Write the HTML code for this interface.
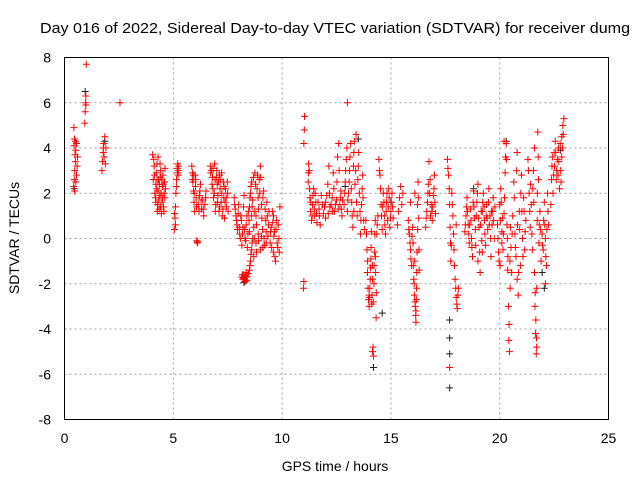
<!DOCTYPE html>
<html><head><meta charset="utf-8"><style>
html,body{margin:0;padding:0;background:#fff}
svg{display:block;font-family:"Liberation Sans",sans-serif}
</style></head><body>
<svg id="chart" width="640" height="480" viewBox="0 0 640 480">
<rect width="640" height="480" fill="#fff"/>
<text x="335" y="33" font-size="15" text-anchor="middle" textLength="590" lengthAdjust="spacingAndGlyphs">Day 016 of 2022, Sidereal Day-to-day VTEC variation (SDTVAR) for receiver dumg</text>
<g id="grid"></g>
<g id="ticks"></g>
<g id="black"></g>
<g id="red"></g>
<rect x="64.5" y="57.5" width="544" height="362" fill="none" stroke="#000" stroke-width="1"/>
<text x="335" y="471" font-size="14" text-anchor="middle">GPS time / hours</text>
<text x="0" y="0" font-size="14" text-anchor="middle" transform="translate(19,238) rotate(-90)">SDTVAR / TECUs</text>
</svg>
<script>
const xTicks=[0,5,10,15,20,25];
const yTicks=[-8,-6,-4,-2,0,2,4,6,8];
const redPoints=[
[0.42,2.3],[0.45,2.6],[0.47,3.0],[0.5,3.4],[0.48,3.7],[0.44,4.1],[0.46,4.4],[0.5,4.3],[0.52,2.5],[0.55,2.8],[0.58,3.2],[0.43,4.9],[0.6,3.6],
[0.93,5.1],[0.95,5.6],[0.97,6.0],[0.98,6.3],[1.0,7.7],
[1.72,3.0],[1.75,3.4],[1.78,3.8],[1.8,4.2],[1.85,4.5],[1.9,4.0],[1.82,3.6],
[2.55,6.0],
[4.05,3.7],[4.1,3.5],[4.12,3.2],[4.15,2.0],[4.18,1.8],[4.2,2.4],[4.22,2.9],[4.25,3.3],[4.28,1.5],[4.3,2.1],[4.32,2.6],[4.35,1.3],[4.38,1.9],[4.4,2.7],[4.42,3.0],[4.45,1.1],[4.48,1.6],[4.5,2.3],[4.52,2.8],[4.55,1.4],[4.58,2.0],[4.6,2.5],[4.62,3.1],[4.3,3.6],[4.2,1.6],
[5.05,0.4],[5.08,0.9],[5.1,1.4],[5.12,2.0],[5.15,2.6],[5.18,3.1],[5.2,3.3],[5.22,2.8],[5.25,3.2],[5.1,0.6],
[5.85,3.2],[5.88,2.9],[5.9,2.5],[5.93,2.1],[5.95,1.6],[5.98,1.2],[6.0,2.8],[6.02,2.3],[6.05,1.8],[6.08,-0.1],[6.1,-0.2],[6.12,-0.15],[6.15,1.5],[6.2,1.9],[6.25,2.4],[6.3,1.3],[6.35,1.7],[6.4,1.0],[6.45,1.5],[6.5,2.1],
[6.7,3.2],[6.75,3.0],[6.8,2.7],[6.82,2.2],[6.85,1.8],[6.9,3.3],[6.92,2.6],[6.95,1.5],[7.0,3.0],[7.02,2.4],[7.05,1.9],[7.1,1.2],[7.12,2.8],[7.15,2.2],[7.2,1.6],[7.22,2.9],[7.25,1.0],[7.3,2.5],[7.32,1.8],[7.35,0.9],[7.4,2.2],[7.45,1.4],[7.5,2.0],
[7.8,1.8],[7.85,1.3],[7.9,0.8],[7.95,0.4],[8.0,1.5],[8.05,0.2],[8.1,1.0],[8.15,-0.3],[8.2,0.5],[8.25,1.9],[8.3,0.0],[8.35,0.6],[8.4,-0.4],[8.45,1.2],[8.5,0.3],
[8.15,-1.7],[8.2,-1.8],[8.25,-1.6],[8.3,-1.9],[8.35,-1.5],[8.4,-1.7],[8.5,-1.4],[8.55,-1.0],[8.6,-0.5],[8.65,0.0],[8.5,1.4],[8.55,2.0],[8.6,2.5],[8.65,1.7],[8.7,0.5],[8.75,2.9],[8.8,1.0],[8.85,2.2],[8.9,0.2],[8.95,2.6],[9.0,3.2],[9.05,1.5],[9.1,0.4],[9.15,2.1],[9.2,-0.3],[9.25,0.8],[9.3,1.6],[9.35,0.1],[9.4,1.2],[8.7,-0.8],[8.8,-0.2],[9.0,-0.5],[8.9,1.8],[8.6,1.0],
[9.45,-0.2],[9.5,0.5],[9.55,1.2],[9.6,-0.6],[9.65,0.3],[9.7,-1.0],[9.75,0.8],[9.8,-0.4],[9.85,0.0],[9.9,1.4],[9.6,1.0],
[10.98,-2.2],[11.0,-1.9],[11.0,4.2],[11.02,4.8],[11.03,5.4],
[11.2,2.5],[11.22,3.3],[11.25,3.0],[11.28,1.8],[11.3,1.2],[11.35,0.8],[11.4,1.5],[11.45,2.2],[11.5,1.0],[11.55,1.6],[11.6,0.7],[11.7,1.3],[11.8,1.9],[11.9,1.1],[12.0,1.6],[12.1,2.4],[12.15,3.2],[12.2,1.4],[12.3,1.8],[12.35,2.9],[12.4,1.2],[12.5,1.7],[12.55,3.6],[12.6,4.2],[12.65,1.5],[12.7,2.1],[12.75,1.0],[11.75,0.6],[12.0,0.9],
[13.0,6.0],
[12.85,1.5],[12.9,2.5],[12.95,3.5],[13.0,1.2],[13.05,2.0],[13.1,3.0],[13.15,4.2],[13.2,1.6],[13.25,0.5],[13.3,3.8],[13.35,2.4],[13.4,4.6],[13.45,1.0],[13.5,3.2],[13.55,2.0],[13.6,0.2],[13.65,1.5],[13.7,2.8],[13.75,0.8],[13.3,1.2],
[13.85,0.8],[13.9,-0.5],[13.92,-1.5],[13.95,-2.2],[14.0,-3.0],[14.02,-2.6],[14.05,-1.8],[14.08,-0.9],[14.1,0.3],[14.12,-2.9],[14.15,-1.2],[14.18,-4.8],[14.2,-5.2],[14.22,-2.0],[14.25,-0.6],[14.28,0.8],[14.3,-1.5],[14.32,-3.5],[14.35,0.2],[14.4,1.0],[14.0,-2.5],
[14.45,3.5],[14.5,2.8],[14.55,1.5],[14.6,0.4],[14.65,2.0],[14.7,1.0],[14.75,0.2],[14.8,1.6],[14.85,0.8],[14.9,2.2],[14.95,0.5],[15.0,1.2],[15.05,2.0],[15.1,0.9],
[15.3,0.6],[15.35,1.2],[15.4,1.8],[15.45,2.3],[15.5,1.5],[15.55,2.0],
[15.8,0.8],[15.85,0.2],[15.9,-0.5],[15.95,-1.2],[16.0,0.5],[16.02,-0.2],[16.05,-1.8],[16.08,-2.5],[16.1,-1.0],[16.12,-3.0],[16.15,-3.7],[16.18,-2.2],[16.2,-0.6],[16.22,1.5],[16.25,2.5],[16.28,0.9],[16.3,-1.4],[15.9,1.6],[16.1,2.0],[16.15,-3.2],
[16.6,0.5],[16.65,1.2],[16.7,2.0],[16.75,3.4],[16.8,2.6],[16.85,1.5],[16.9,0.8],[16.95,1.9],[17.0,2.8],[17.05,1.1],
[17.6,3.5],[17.65,2.8],[17.7,1.5],[17.72,0.5],[17.75,-1.0],[17.7,-5.7],[17.8,2.0],[17.85,1.0],[17.9,-0.5],[17.95,-1.8],[18.0,-2.6],[18.05,-3.1],[18.1,-2.2],[18.0,0.6],[17.78,-0.3],
[18.4,0.3],[18.45,1.0],[18.5,1.8],[18.55,0.6],[18.6,-0.2],[18.65,1.3],[18.7,0.0],[18.75,-0.8],[18.8,2.1],[18.85,0.9],[18.9,-0.3],[18.95,1.6],[19.0,2.4],[19.05,0.5],[19.1,-1.5],[19.15,1.2],[19.2,-0.6],[19.25,2.0],[19.3,0.8],[19.35,-0.3],[19.4,1.5],[19.45,0.4],[19.5,2.2],[19.55,1.0],[19.6,-0.8],[19.65,0.6],[19.7,1.8],[19.75,0.0],[19.2,1.2],[19.0,-1.0],
[19.9,0.6],[19.95,-0.6],[20.0,1.5],[20.02,-1.2],[20.05,2.2],[20.1,0.3],[20.15,-0.5],[20.2,1.1],[20.25,2.9],[20.3,4.2],[20.32,3.5],[20.35,0.0],[20.38,-0.8],[20.4,-3.0],[20.42,-4.5],[20.45,-5.0],[20.48,-2.2],[20.5,0.5],[20.55,-1.5],[20.6,1.0],[20.2,4.3],[20.1,-0.2],
[20.65,2.5],[20.7,0.2],[20.75,-0.8],[20.8,3.8],[20.85,-2.5],[20.9,1.2],[20.95,-1.2],[21.0,2.8],[21.05,0.0],[21.1,1.8],[21.15,-0.5],[21.2,0.8],[20.8,-1.8],
[21.3,3.5],[21.35,2.0],[21.4,0.5],[21.45,1.5],[21.5,-0.5],[21.55,3.0],[21.6,-1.5],[21.62,-3.0],[21.65,-4.2],[21.68,-5.1],[21.7,-2.2],[21.72,0.8],[21.75,4.7],[21.78,2.6],[21.8,-0.2],[21.85,1.2],[21.9,-1.0],[21.6,4.0],[21.7,-4.8],
[21.95,0.2],[22.0,-0.5],[22.05,1.6],[22.1,0.0],[22.15,-1.2],[22.2,2.0],[22.25,0.6],[22.1,-2.0],
[22.35,1.5],[22.4,3.2],[22.45,2.0],[22.5,3.8],[22.55,4.3],[22.6,2.6],[22.65,3.5],[22.7,4.0],[22.75,2.2],[22.8,3.0],[22.85,4.5],[22.9,5.0],[22.95,5.3],[22.85,3.6]
];
const redPointsExtra=[
[0.47,2.1],[0.52,3.9],[0.55,4.2],[0.98,5.9],[1.78,4.0],[1.88,3.3],
[4.08,2.6],[4.14,2.8],[4.24,2.2],[4.27,1.2],[4.33,1.7],[4.36,2.4],[4.41,1.4],[4.44,2.0],[4.47,2.6],[4.51,1.8],[4.54,2.4],[4.57,1.2],[4.61,1.8],[4.64,2.2],[4.26,2.6],[4.39,3.3],
[5.06,1.1],[5.14,2.3],[5.19,2.9],[5.23,3.0],[5.87,2.6],[5.92,2.8],[5.96,2.0],[6.03,2.6],[6.07,1.4],[6.18,1.2],[6.22,2.1],[6.28,1.7],[6.38,1.3],[6.48,1.8],
[6.72,2.9],[6.78,2.4],[6.83,3.1],[6.88,2.0],[6.93,1.2],[6.98,2.7],[7.03,1.6],[7.08,2.5],[7.13,1.4],[7.18,2.6],[7.23,2.0],[7.28,1.3],[7.33,2.3],[7.38,1.6],[7.43,1.8],[7.48,2.5],[7.52,1.2],
[7.82,1.5],[7.88,1.0],[7.93,0.6],[7.98,1.1],[8.03,0.5],[8.08,0.0],[8.13,0.8],[8.18,0.2],[8.23,1.4],[8.28,0.4],[8.33,-0.1],[8.38,1.0],[8.43,0.2],[8.48,0.8],
[8.18,-1.6],[8.22,-1.75],[8.28,-1.8],[8.33,-1.65],[8.38,-1.85],[8.45,-1.55],[8.52,-1.2],[8.57,-0.7],[8.62,-0.2],[8.52,1.8],[8.57,2.3],[8.62,1.4],[8.68,2.7],[8.72,1.2],[8.78,2.4],[8.82,0.6],[8.87,2.8],[8.92,1.3],[8.97,2.0],[9.02,2.7],[9.07,0.9],[9.12,1.8],[9.17,0.0],[9.22,1.3],[9.27,0.3],[9.32,1.0],[9.37,0.6],[8.72,0.0],[8.82,-0.6],[8.92,-0.1],[9.05,0.1],[9.12,-0.4],[9.27,-0.2],
[9.47,0.3],[9.52,-0.4],[9.57,0.7],[9.62,0.1],[9.67,-0.8],[9.72,0.4],[9.77,-0.2],[9.82,0.6],[9.87,-0.6],
[11.21,2.9],[11.26,2.2],[11.32,1.6],[11.38,1.0],[11.42,1.9],[11.48,1.3],[11.52,2.0],[11.58,1.1],[11.65,1.6],[11.72,1.0],[11.85,1.5],[11.95,1.4],[12.05,1.9],[12.12,1.1],[12.18,2.0],[12.25,1.5],[12.32,1.2],[12.38,2.2],[12.45,1.5],[12.52,2.5],[12.58,1.3],[12.62,3.0],[12.68,1.8],[12.72,1.3],[12.78,1.7],
[12.88,2.0],[12.92,3.0],[12.98,4.0],[13.02,1.7],[13.08,2.5],[13.12,3.6],[13.18,2.2],[13.22,1.0],[13.28,3.2],[13.32,4.3],[13.38,3.0],[13.42,1.6],[13.48,2.6],[13.52,3.8],[13.58,1.2],[13.62,0.8],[13.68,2.2],[13.72,1.8],[13.78,0.4],
[13.88,0.2],[13.93,-1.0],[13.97,-2.7],[14.03,-2.2],[14.06,-1.3],[14.09,-0.4],[14.13,-2.5],[14.16,-1.8],[14.19,-2.8],[14.23,-1.2],[14.26,0.2],[14.29,-0.8],[14.33,-2.4],[14.37,0.6],[14.15,-5.0],
[14.47,3.0],[14.52,2.2],[14.57,1.0],[14.62,1.4],[14.68,1.6],[14.72,0.6],[14.78,1.2],[14.82,2.0],[14.88,1.4],[14.92,1.8],[14.98,0.9],[15.02,1.6],[15.08,1.4],
[15.82,0.4],[15.88,-0.2],[15.92,-0.9],[15.97,0.1],[16.03,-1.2],[16.07,-2.0],[16.11,-2.8],[16.14,-3.4],[16.17,-2.7],[16.19,-1.5],[16.23,0.4],[16.26,1.8],[16.29,-0.5],
[16.62,0.9],[16.68,1.6],[16.72,2.4],[16.78,2.0],[16.82,1.0],[16.88,1.2],[16.92,1.4],[16.98,2.2],[17.02,1.6],
[17.62,3.1],[17.68,2.2],[17.74,-0.2],[17.82,1.5],[17.88,0.2],[17.92,-1.2],[17.98,-2.2],[18.03,-2.9],[18.08,-2.5],
[18.42,0.6],[18.48,1.4],[18.52,1.2],[18.58,0.2],[18.62,0.6],[18.68,0.8],[18.72,-0.4],[18.78,1.6],[18.82,1.4],[18.88,0.4],[18.92,1.0],[18.98,2.0],[19.02,0.9],[19.08,-0.6],[19.12,0.6],[19.18,-0.1],[19.22,1.6],[19.28,1.4],[19.32,0.2],[19.38,1.0],[19.42,0.9],[19.48,1.6],[19.52,0.6],[19.58,0.0],[19.62,1.2],[19.68,1.2],[19.72,0.8],[19.78,1.4],
[19.92,0.0],[19.97,-1.0],[20.03,0.8],[20.07,1.6],[20.12,0.9],[20.17,0.2],[20.22,1.8],[20.27,3.6],[20.33,0.6],[20.37,-1.4],[20.43,-3.8],[20.47,-1.0],[20.52,-0.4],[20.57,0.2],
[20.67,1.8],[20.72,-0.4],[20.78,3.0],[20.82,0.6],[20.87,-1.5],[20.92,0.4],[20.97,2.0],[21.02,1.2],[21.07,-0.8],[21.12,1.2],[21.17,0.3],
[21.32,3.0],[21.38,1.2],[21.42,2.4],[21.48,0.2],[21.52,2.2],[21.57,1.6],[21.63,-2.4],[21.66,-3.6],[21.69,-4.4],[21.73,2.0],[21.77,3.6],[21.82,0.6],[21.87,0.4],
[21.97,-0.3],[22.02,0.8],[22.07,0.6],[22.12,-0.8],[22.17,0.4],[22.22,1.2],
[22.38,2.6],[22.42,3.6],[22.48,2.8],[22.52,3.2],[22.58,3.8],[22.62,3.0],[22.68,2.8],[22.72,3.4],[22.78,4.2],[22.82,2.5],[22.88,4.0],[22.92,4.6]
];
const blackPoints=[
[0.45,2.2],[0.95,6.5],[1.85,4.3],[8.25,-1.95],[14.2,-5.7],[14.6,-3.3],[17.7,-6.6],[17.7,-4.4],[17.7,-5.1],[17.7,-3.6],[20.3,4.3],[21.95,-1.5],[22.05,-2.2],[12.9,2.3],[13.5,4.4],[15.0,1.6],[18.8,2.2],[22.8,3.9]
];
const NS="http://www.w3.org/2000/svg";
const X0=64.5,X1=608.5,Y0=419.5,Y1=57.5;
function xs(v){return X0+(v-0)/(25-0)*(X1-X0);}
function ys(v){return Y0-(v+8)/16*(Y0-Y1);}
const grid=document.getElementById('grid'),ticks=document.getElementById('ticks');
xTicks.forEach(t=>{
  const x=xs(t);
  if(t>0&&t<25){const l=document.createElementNS(NS,'line');
  l.setAttribute('x1',x);l.setAttribute('x2',x);l.setAttribute('y1',Y1);l.setAttribute('y2',Y0);
  l.setAttribute('stroke','#a0a0a0');l.setAttribute('stroke-dasharray','2,3');
  
  
  grid.appendChild(l);}
  const tx=document.createElementNS(NS,'text');
  tx.setAttribute('x',x);tx.setAttribute('y',443);tx.setAttribute('font-size','14');tx.setAttribute('text-anchor','middle');
  tx.textContent=t;
  
  
  ticks.appendChild(tx);
});
yTicks.forEach(t=>{
  const y=ys(t);
  if(t>-8&&t<8){const l=document.createElementNS(NS,'line');
  l.setAttribute('x1',X0);l.setAttribute('x2',X1);l.setAttribute('y1',y);l.setAttribute('y2',y);
  l.setAttribute('stroke','#a0a0a0');l.setAttribute('stroke-dasharray','2,3');
  
  
  grid.appendChild(l);}
  const tx=document.createElementNS(NS,'text');
  tx.setAttribute('x',51);tx.setAttribute('y',y+5);tx.setAttribute('font-size','14');tx.setAttribute('text-anchor','end');
  tx.textContent=t;
  
  
  ticks.appendChild(tx);
});
function drawPoints(arr,g,color,name){
  arr.forEach(p=>{
    const x=xs(p[0]),y=ys(p[1]);
    const m=document.createElementNS(NS,'path');
    m.setAttribute('d','M'+(x-3.5)+' '+y+'H'+(x+3.5)+'M'+x+' '+(y-3.5)+'V'+(y+3.5));
    m.setAttribute('stroke',color);m.setAttribute('stroke-width','1');
    
    
    g.appendChild(m);
  });
}
drawPoints(blackPoints,document.getElementById('black'),'#202020','reference-point');
drawPoints(redPoints,document.getElementById('red'),'#ff0000','sdtvar-point');
drawPoints(redPointsExtra,document.getElementById('red'),'#ff0000','sdtvar-point');
</script>
</body></html>
